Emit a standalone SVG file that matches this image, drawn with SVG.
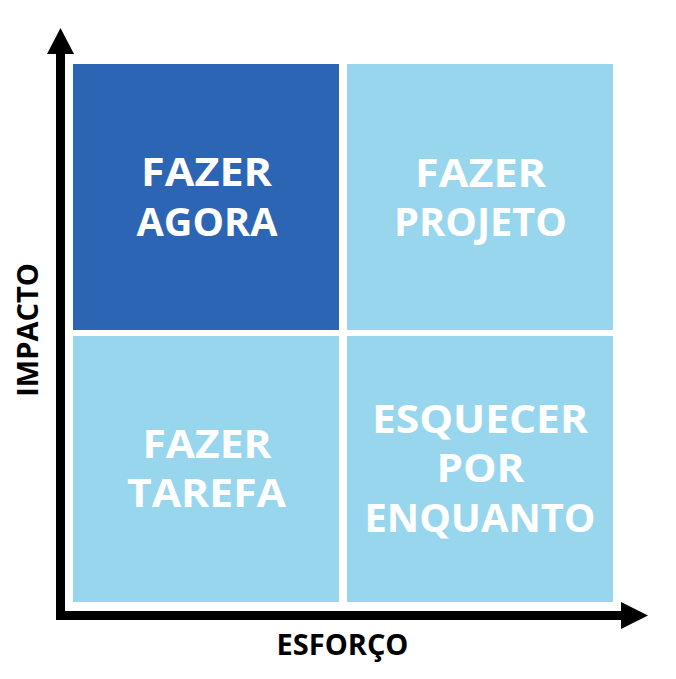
<svg xmlns="http://www.w3.org/2000/svg" width="676" height="679" viewBox="0 0 676 679">
<style>
.q{font-family:"Open Sans","Noto Sans",sans-serif;font-weight:700;font-size:39px;fill:#ffffff;text-anchor:middle}
.ax{font-family:"Open Sans","Noto Sans",sans-serif;font-weight:700;font-size:29px;fill:#000000;text-anchor:middle}
.dark{fill:#2D65B5}
.light{fill:#98D6EE}
.head{fill:#000000}
</style>
<rect width="676" height="679" fill="#ffffff"/>
<g id="q-fazer-agora">
<rect class="dark" x="73" y="64" width="266" height="266"/>
<text class="q" x="206.5" y="186" textLength="131" lengthAdjust="spacingAndGlyphs">FAZER</text>
<text class="q" x="207" y="236" textLength="141" lengthAdjust="spacingAndGlyphs">AGORA</text>
</g>
<g id="q-fazer-projeto">
<rect class="light" x="347" y="64" width="266" height="266"/>
<text class="q" x="480.5" y="186.5" textLength="131" lengthAdjust="spacingAndGlyphs">FAZER</text>
<text class="q" x="480.5" y="235.5" textLength="173" lengthAdjust="spacingAndGlyphs">PROJETO</text>
</g>
<g id="q-fazer-tarefa">
<rect class="light" x="73" y="336" width="266" height="266"/>
<text class="q" x="207" y="458" textLength="129" lengthAdjust="spacingAndGlyphs">FAZER</text>
<text class="q" x="206.5" y="507" textLength="159" lengthAdjust="spacingAndGlyphs">TAREFA</text>
</g>
<g id="q-esquecer">
<rect class="light" x="347" y="336" width="266" height="266"/>
<text class="q" x="480" y="432.5" textLength="216" lengthAdjust="spacingAndGlyphs">ESQUECER</text>
<text class="q" x="480.5" y="482" textLength="88" lengthAdjust="spacingAndGlyphs">POR</text>
<text class="q" x="480" y="531.5" textLength="231" lengthAdjust="spacingAndGlyphs">ENQUANTO</text>
</g>
<g id="connectors">
<path d="M60.5,54 V615.5 H621" fill="none" stroke="#000" stroke-width="9" stroke-linejoin="miter"/>
<path class="head" d="M47,54 L60.5,28 L74,54 Z"/>
<path class="head" d="M621,602 L648,615.5 L621,629 Z"/>
</g>
<g id="labels">
<text class="ax" x="342.5" y="655">ESFORÇO</text>
<text class="ax" transform="translate(38,330) rotate(-90)">IMPACTO</text>
</g>
</svg>
